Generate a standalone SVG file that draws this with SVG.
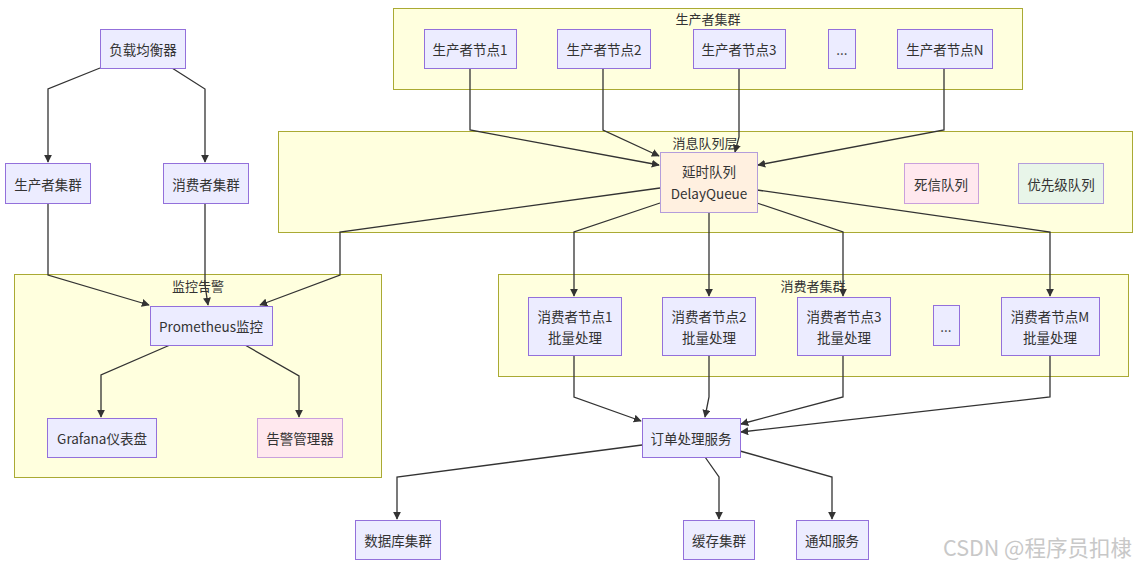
<svg xmlns="http://www.w3.org/2000/svg" width="1139" height="567" viewBox="0 0 1139 567">
  <style>
    .cluster { fill: #ffffde; stroke: #aaaa33; stroke-width: 1; }
    .ctitle { font-family: "Noto Sans CJK SC", "Liberation Sans", sans-serif; font-size: 13px; fill: #333; text-anchor: middle; }
    .node rect { fill: #ececff; stroke: #9370db; stroke-width: 1; }
    .node text { font-family: "Noto Sans CJK SC", "Liberation Sans", sans-serif; font-size: 13.5px; fill: #333; text-anchor: middle; dominant-baseline: central; }
    .node.pink rect { fill: #ffe8ee; stroke: #c9a0dc; }
    .node.green rect { fill: #e8f5e9; stroke: #b39ddb; }
    .node.peach rect { fill: #fff0e0; stroke: #b39ddb; }
    .edges polyline { fill: none; stroke: #333; stroke-width: 1.3; marker-end: url(#arrow); }
    .wm { font-family: "Noto Sans CJK SC", "Liberation Sans", sans-serif; font-size: 21.5px; fill: #c8c8c8; }
  </style>
  <defs>
    <marker id="arrow" viewBox="0 0 10 10" refX="9" refY="5" markerWidth="8" markerHeight="8" markerUnits="userSpaceOnUse" orient="auto">
      <path d="M0,0 L10,5 L0,10 z" fill="#333"/>
    </marker>
  </defs>
  <rect width="1139" height="567" fill="#ffffff"/>

  <!-- clusters -->
  <g id="cluster-producers">
    <rect class="cluster" x="393.5" y="8.5" width="629" height="81"/>
    <text class="ctitle" x="708" y="24">生产者集群</text>
  </g>
  <g id="cluster-mq">
    <rect class="cluster" x="278.5" y="131.5" width="854" height="101"/>
    <text class="ctitle" x="705" y="148">消息队列层</text>
  </g>
  <g id="cluster-consumers">
    <rect class="cluster" x="498.5" y="274.5" width="630" height="102"/>
    <text class="ctitle" x="813" y="291">消费者集群</text>
  </g>
  <g id="cluster-monitor">
    <rect class="cluster" x="14.5" y="274.5" width="367" height="203"/>
    <text class="ctitle" x="198" y="291">监控告警</text>
  </g>

  <!-- connectors -->
  <g class="edges" id="edges">
    <polyline points="100,68 48,89 48,162"/>
    <polyline points="172,68 205,89 205,162"/>
    <polyline points="48,203 48,275 149,305"/>
    <polyline points="205,203 205,285 208,305"/>
    <polyline points="660,188 340,232 340,275 260,305"/>
    <polyline points="170,345 101,375 101,417"/>
    <polyline points="245,345 299,376 299,417"/>

    <polyline points="470,68 470,130 659,165"/>
    <polyline points="603,68 603,130 659,156"/>
    <polyline points="739,68 739,137 735,152"/>
    <polyline points="944,68 944,130 758,165"/>

    <polyline points="660,203 574,232 574,296"/>
    <polyline points="709,212 709,296"/>
    <polyline points="757,203 843,232 843,296"/>
    <polyline points="757,190 1050,232 1050,296"/>

    <polyline points="574,355 574,397 641,421"/>
    <polyline points="709,355 709,397 705,417"/>
    <polyline points="843,355 843,397 741,424"/>
    <polyline points="1050,355 1050,397 741,432"/>

    <polyline points="642,445 397,477 397,519"/>
    <polyline points="705,457 719,477 719,519"/>
    <polyline points="740,451 832,477 832,519"/>
  </g>

  <!-- nodes -->
  <g class="node" id="lb"><rect x="100.5" y="29.5" width="85" height="39"/><text x="143" y="49">负载均衡器</text></g>
  <g class="node" id="producer-cluster"><rect x="5.5" y="163.5" width="85" height="40"/><text x="48" y="184">生产者集群</text></g>
  <g class="node" id="consumer-cluster"><rect x="163.5" y="163.5" width="85" height="40"/><text x="206" y="184">消费者集群</text></g>

  <g class="node" id="p1"><rect x="424.5" y="29.5" width="92" height="39"/><text x="470" y="49">生产者节点1</text></g>
  <g class="node" id="p2"><rect x="557.5" y="29.5" width="93" height="39"/><text x="604" y="49">生产者节点2</text></g>
  <g class="node" id="p3"><rect x="693.5" y="29.5" width="92" height="39"/><text x="739" y="49">生产者节点3</text></g>
  <g class="node" id="pdots"><rect x="828.5" y="29.5" width="27" height="39"/><text x="842" y="49">...</text></g>
  <g class="node" id="pn"><rect x="897.5" y="29.5" width="95" height="39"/><text x="945" y="49">生产者节点N</text></g>

  <g class="node peach" id="delay"><rect x="660.5" y="152.5" width="97" height="60"/><text x="709" y="171">延时队列</text><text x="709" y="193">DelayQueue</text></g>
  <g class="node pink" id="dead"><rect x="904.5" y="163.5" width="74" height="40"/><text x="941" y="184">死信队列</text></g>
  <g class="node green" id="priority"><rect x="1018.5" y="163.5" width="85" height="40"/><text x="1061" y="184">优先级队列</text></g>

  <g class="node" id="c1"><rect x="528.5" y="297.5" width="93" height="58"/><text x="575" y="316">消费者节点1</text><text x="575" y="337">批量处理</text></g>
  <g class="node" id="c2"><rect x="662.5" y="297.5" width="93" height="58"/><text x="709" y="316">消费者节点2</text><text x="709" y="337">批量处理</text></g>
  <g class="node" id="c3"><rect x="797.5" y="297.5" width="93" height="58"/><text x="844" y="316">消费者节点3</text><text x="844" y="337">批量处理</text></g>
  <g class="node" id="cdots"><rect x="933.5" y="305.5" width="26" height="40"/><text x="946" y="326">...</text></g>
  <g class="node" id="cm"><rect x="1001.5" y="297.5" width="98" height="58"/><text x="1050" y="316">消费者节点M</text><text x="1050" y="337">批量处理</text></g>

  <g class="node" id="prometheus"><rect x="150.5" y="306.5" width="122" height="39"/><text x="211" y="326">Prometheus监控</text></g>
  <g class="node" id="grafana"><rect x="47.5" y="418.5" width="109" height="39"/><text x="102" y="438">Grafana仪表盘</text></g>
  <g class="node pink" id="alert"><rect x="257.5" y="418.5" width="85" height="39"/><text x="300" y="438">告警管理器</text></g>

  <g class="node" id="order"><rect x="642.5" y="418.5" width="98" height="39"/><text x="691" y="438">订单处理服务</text></g>
  <g class="node" id="db"><rect x="355.5" y="520.5" width="85" height="39"/><text x="398" y="540">数据库集群</text></g>
  <g class="node" id="cache"><rect x="683.5" y="520.5" width="71" height="39"/><text x="719" y="540">缓存集群</text></g>
  <g class="node" id="notify"><rect x="796.5" y="520.5" width="72" height="39"/><text x="832" y="540">通知服务</text></g>

  <text class="wm" x="943" y="556">CSDN @程序员扣棣</text>
</svg>
